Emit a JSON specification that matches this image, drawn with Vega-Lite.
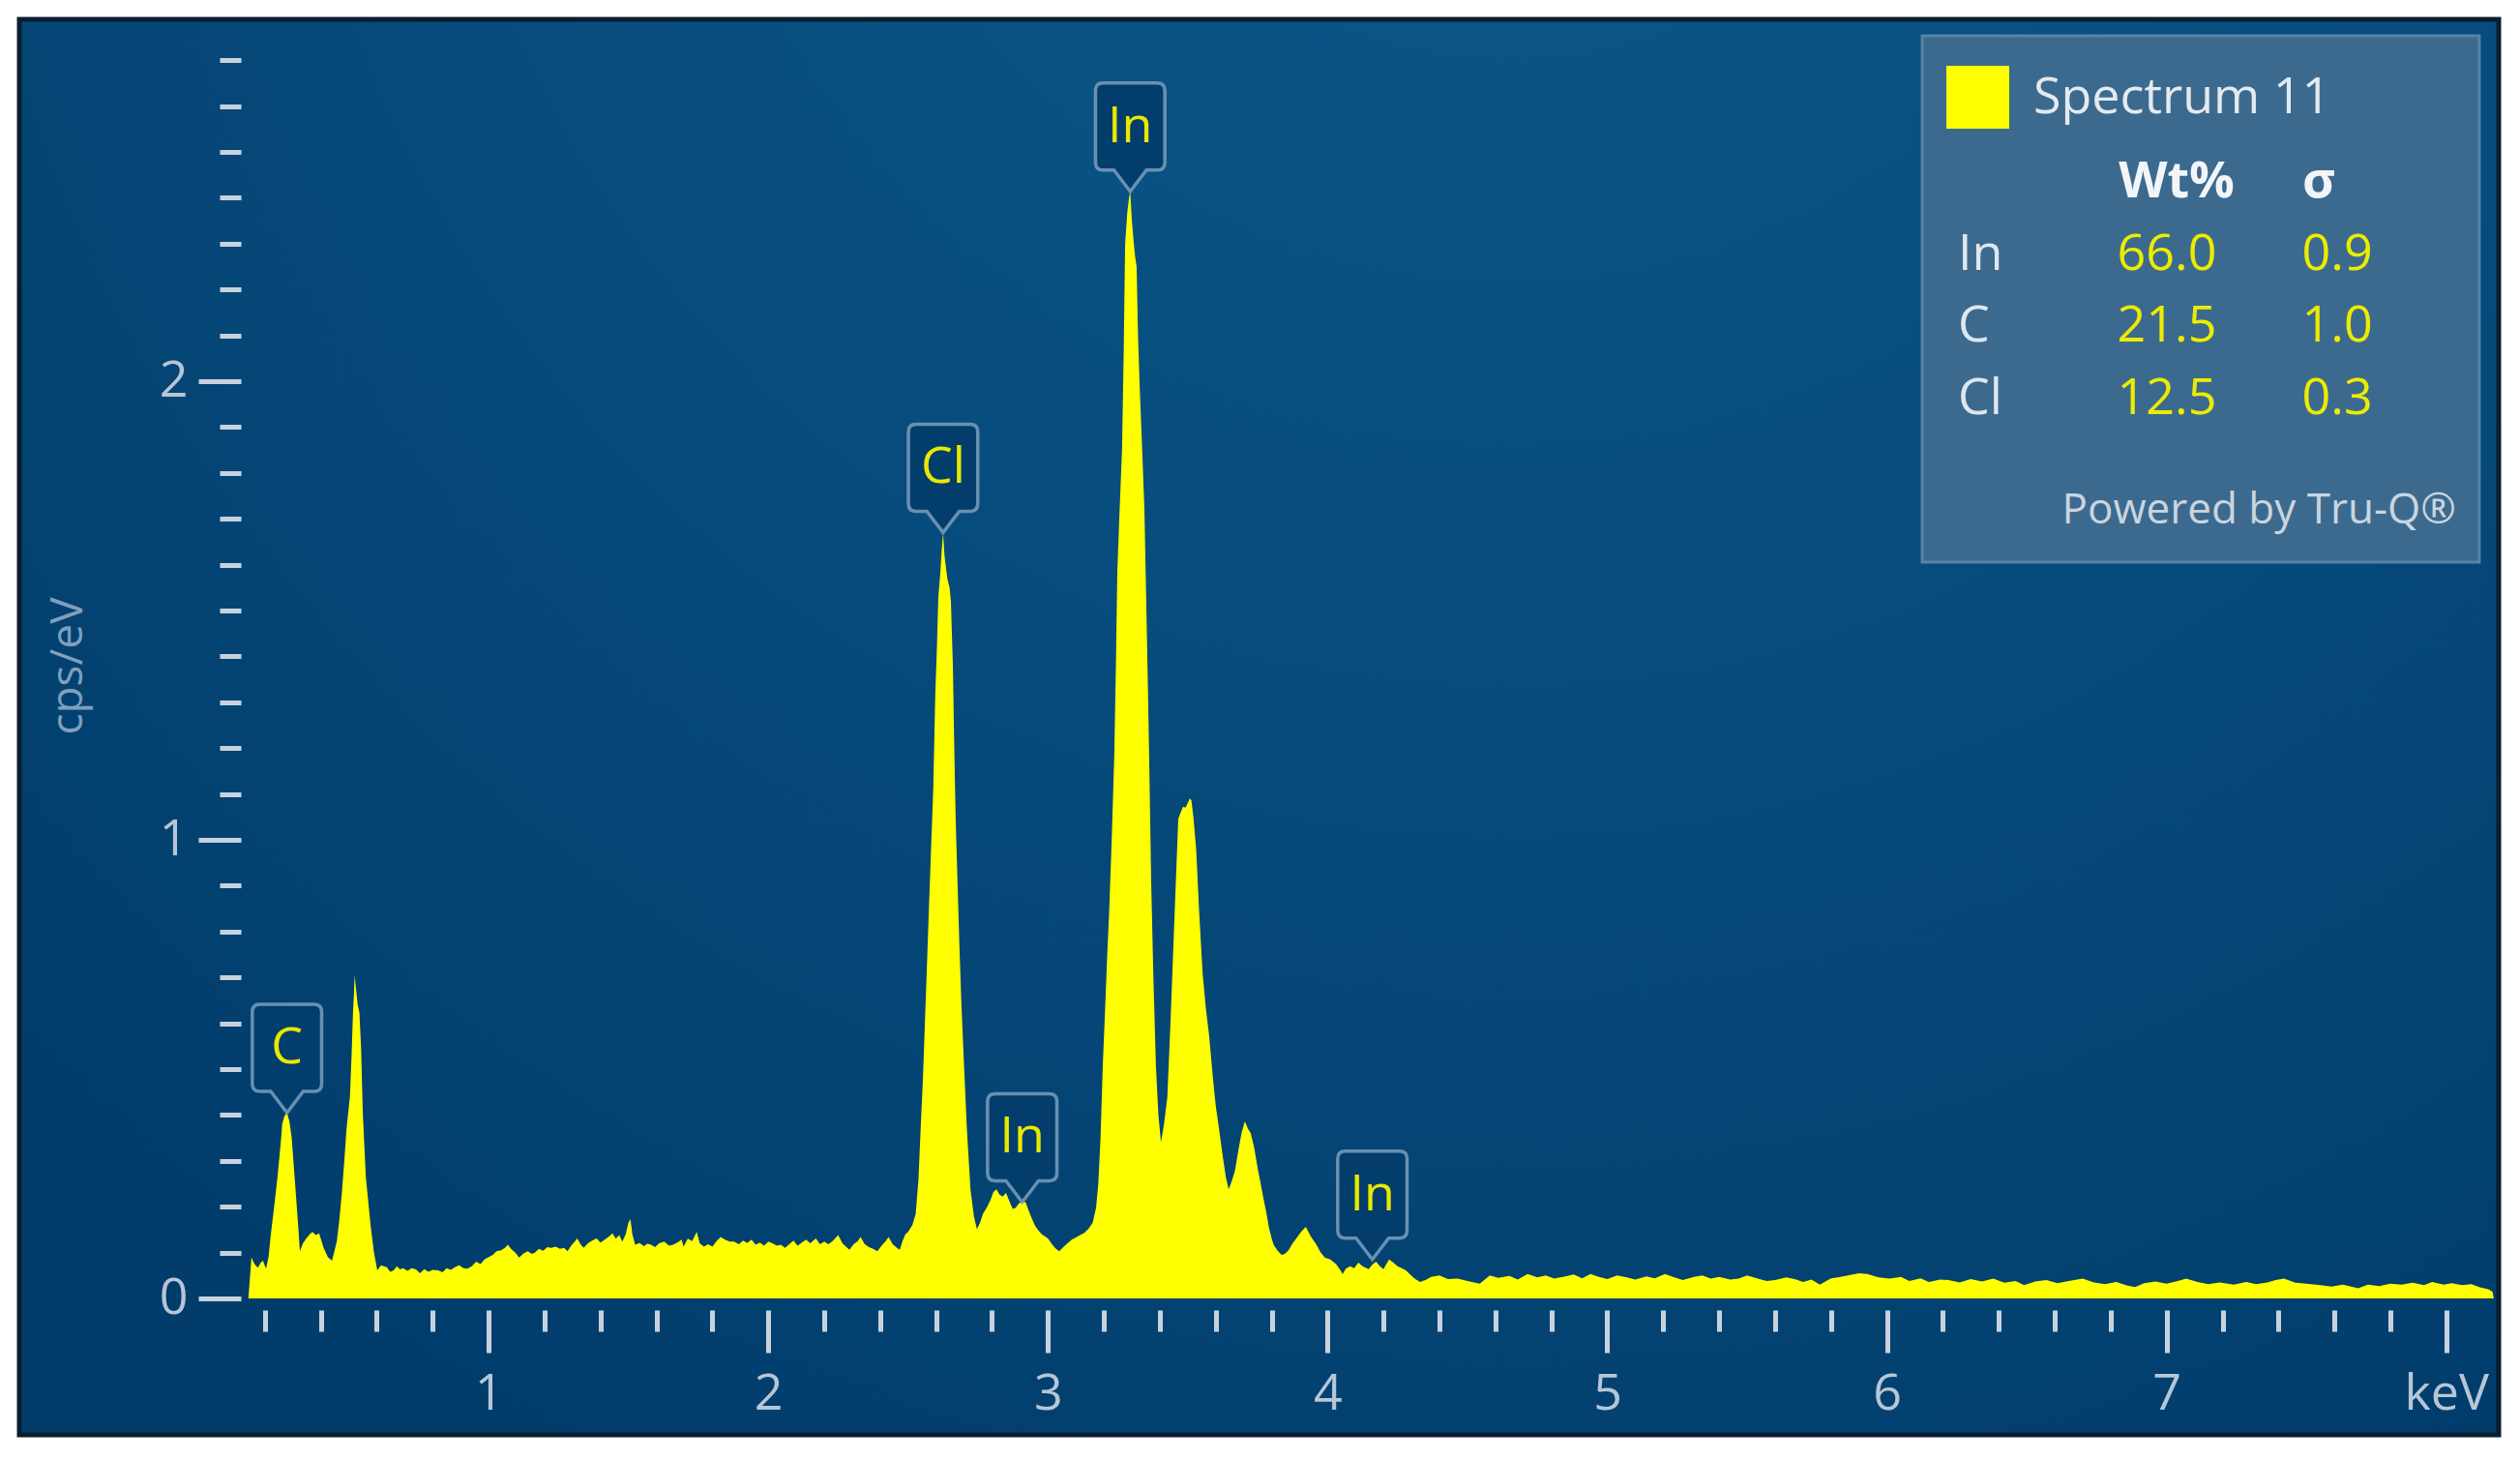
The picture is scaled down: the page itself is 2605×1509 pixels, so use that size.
{
"$schema":"https://vega.github.io/schema/vega-lite/v6.json",
"width":2563,"height":1463,
"autosize":{"type":"none"},
"padding":{"left":20,"top":20,"right":22,"bottom":26},
"background":"white",
"view":{"fill":{"gradient":"radial","x1":0.6,"y1":0.05,"r1":0,"x2":0.6,"y2":0.05,"r2":0.85,"stops":[{"offset":0,"color":"#0c5a8c"},{"offset":0.55,"color":"#064b7b"},{"offset":1,"color":"#013c6b"}]},"stroke":"#0b1d2e","strokeWidth":5},
"config":{"font":"Open Sans"},
"datasets":{
"spectrum":[
{"keV":0.141,"cps":0},{"keV":0.152,"cps":0.089},{"keV":0.163,"cps":0.075},{"keV":0.175,"cps":0.067},{"keV":0.185,"cps":0.078},{"keV":0.193,"cps":0.082},{"keV":0.204,"cps":0.065},{"keV":0.213,"cps":0.09},{"keV":0.221,"cps":0.138},{"keV":0.233,"cps":0.2},{"keV":0.245,"cps":0.264},{"keV":0.256,"cps":0.335},{"keV":0.262,"cps":0.38},{"keV":0.27,"cps":0.398},{"keV":0.279,"cps":0.405},{"keV":0.288,"cps":0.385},{"keV":0.296,"cps":0.349},{"keV":0.308,"cps":0.25},{"keV":0.319,"cps":0.159},{"keV":0.325,"cps":0.103},{"keV":0.336,"cps":0.12},{"keV":0.348,"cps":0.131},{"keV":0.36,"cps":0.14},{"keV":0.37,"cps":0.145},{"keV":0.382,"cps":0.138},{"keV":0.394,"cps":0.142},{"keV":0.41,"cps":0.11},{"keV":0.425,"cps":0.09},{"keV":0.44,"cps":0.082},{"keV":0.457,"cps":0.124},{"keV":0.466,"cps":0.17},{"keV":0.475,"cps":0.229},{"keV":0.484,"cps":0.3},{"keV":0.492,"cps":0.37},{"keV":0.504,"cps":0.44},{"keV":0.51,"cps":0.53},{"keV":0.515,"cps":0.623},{"keV":0.518,"cps":0.66},{"keV":0.521,"cps":0.704},{"keV":0.525,"cps":0.68},{"keV":0.532,"cps":0.64},{"keV":0.538,"cps":0.623},{"keV":0.544,"cps":0.546},{"keV":0.55,"cps":0.405},{"keV":0.561,"cps":0.264},{"keV":0.578,"cps":0.159},{"keV":0.59,"cps":0.1},{"keV":0.602,"cps":0.061},{"keV":0.615,"cps":0.072},{"keV":0.625,"cps":0.07},{"keV":0.636,"cps":0.068},{"keV":0.648,"cps":0.058},{"keV":0.66,"cps":0.061},{"keV":0.672,"cps":0.07},{"keV":0.683,"cps":0.063},{"keV":0.694,"cps":0.066},
{"keV":0.71,"cps":0.06},{"keV":0.725,"cps":0.066},{"keV":0.74,"cps":0.063},{"keV":0.755,"cps":0.055},{"keV":0.77,"cps":0.064},{"keV":0.785,"cps":0.058},{"keV":0.8,"cps":0.062},{"keV":0.82,"cps":0.061},{"keV":0.835,"cps":0.057},{"keV":0.85,"cps":0.066},{"keV":0.865,"cps":0.062},{"keV":0.879,"cps":0.068},{"keV":0.895,"cps":0.072},{"keV":0.91,"cps":0.066},{"keV":0.924,"cps":0.065},{"keV":0.94,"cps":0.07},{"keV":0.955,"cps":0.08},{"keV":0.971,"cps":0.075},{"keV":0.985,"cps":0.085},{"keV":1.0,"cps":0.09},{"keV":1.015,"cps":0.095},{"keV":1.028,"cps":0.103},{"keV":1.045,"cps":0.105},{"keV":1.058,"cps":0.11},{"keV":1.069,"cps":0.117},{"keV":1.08,"cps":0.108},{"keV":1.095,"cps":0.1},{"keV":1.109,"cps":0.089},{"keV":1.125,"cps":0.098},{"keV":1.14,"cps":0.103},{"keV":1.155,"cps":0.097},{"keV":1.166,"cps":0.1},{"keV":1.18,"cps":0.108},{"keV":1.195,"cps":0.104},{"keV":1.21,"cps":0.112},{"keV":1.224,"cps":0.11},{"keV":1.24,"cps":0.113},{"keV":1.255,"cps":0.108},{"keV":1.27,"cps":0.11},{"keV":1.282,"cps":0.103},{"keV":1.295,"cps":0.115},{"keV":1.305,"cps":0.122},{"keV":1.317,"cps":0.131},{"keV":1.33,"cps":0.117},{"keV":1.34,"cps":0.11},{"keV":1.355,"cps":0.12},{"keV":1.37,"cps":0.126},{"keV":1.386,"cps":0.131},{"keV":1.4,"cps":0.122},{"keV":1.415,"cps":0.128},{"keV":1.43,"cps":0.135},{"keV":1.443,"cps":0.142},{"keV":1.455,"cps":0.13},{"keV":1.467,"cps":0.138},{"keV":1.478,"cps":0.124},{"keV":1.49,"cps":0.14},{"keV":1.5,"cps":0.165},{"keV":1.507,"cps":0.173},{"keV":1.514,"cps":0.14},{"keV":1.524,"cps":0.117},{"keV":1.54,"cps":0.121},{"keV":1.555,"cps":0.114},{"keV":1.568,"cps":0.119},{"keV":1.581,"cps":0.117},{"keV":1.595,"cps":0.112},{"keV":1.61,"cps":0.12},{"keV":1.628,"cps":0.124},{"keV":1.645,"cps":0.115},{"keV":1.66,"cps":0.117},{"keV":1.675,"cps":0.122},{"keV":1.69,"cps":0.128},{"keV":1.697,"cps":0.113},{"keV":1.712,"cps":0.13},{"keV":1.728,"cps":0.125},{"keV":1.744,"cps":0.145},{"keV":1.755,"cps":0.12},{"keV":1.77,"cps":0.113},{"keV":1.785,"cps":0.118},{"keV":1.8,"cps":0.113},{"keV":1.815,"cps":0.125},{"keV":1.83,"cps":0.134},{"keV":1.845,"cps":0.128},{"keV":1.862,"cps":0.124},{"keV":1.877,"cps":0.124},{"keV":1.895,"cps":0.118},{"keV":1.91,"cps":0.126},{"keV":1.925,"cps":0.121},{"keV":1.94,"cps":0.128},{"keV":1.955,"cps":0.117},{"keV":1.97,"cps":0.122},{"keV":1.985,"cps":0.115},{"keV":2.0,"cps":0.124},{"keV":2.015,"cps":0.12},{"keV":2.03,"cps":0.115},{"keV":2.045,"cps":0.117},{"keV":2.06,"cps":0.11},{"keV":2.075,"cps":0.118},{"keV":2.09,"cps":0.126},{"keV":2.105,"cps":0.115},{"keV":2.12,"cps":0.122},{"keV":2.135,"cps":0.128},{"keV":2.15,"cps":0.12},{"keV":2.17,"cps":0.131},{"keV":2.185,"cps":0.118},{"keV":2.2,"cps":0.124},{"keV":2.215,"cps":0.118},{"keV":2.23,"cps":0.125},{"keV":2.25,"cps":0.138},{"keV":2.265,"cps":0.12},{"keV":2.28,"cps":0.112},{"keV":2.29,"cps":0.106},{"keV":2.305,"cps":0.118},{"keV":2.32,"cps":0.125},{"keV":2.33,"cps":0.134},{"keV":2.345,"cps":0.118},{"keV":2.36,"cps":0.112},{"keV":2.375,"cps":0.108},{"keV":2.39,"cps":0.103},{"keV":2.405,"cps":0.115},{"keV":2.42,"cps":0.125},{"keV":2.43,"cps":0.134},{"keV":2.445,"cps":0.118},{"keV":2.46,"cps":0.11},{"keV":2.47,"cps":0.106},{"keV":2.48,"cps":0.125},{"keV":2.49,"cps":0.14},{"keV":2.5,"cps":0.145},{"keV":2.515,"cps":0.16},{"keV":2.527,"cps":0.184},
{"keV":2.537,"cps":0.26},{"keV":2.545,"cps":0.373},{"keV":2.553,"cps":0.48},{"keV":2.56,"cps":0.6},{"keV":2.567,"cps":0.72},{"keV":2.574,"cps":0.844},{"keV":2.582,"cps":0.98},{"keV":2.59,"cps":1.113},{"keV":2.597,"cps":1.314},{"keV":2.603,"cps":1.42},{"keV":2.608,"cps":1.53},{"keV":2.615,"cps":1.58},{"keV":2.62,"cps":1.63},{"keV":2.625,"cps":1.67},{"keV":2.63,"cps":1.62},{"keV":2.64,"cps":1.57},{"keV":2.648,"cps":1.55},{"keV":2.653,"cps":1.52},{"keV":2.66,"cps":1.38},{"keV":2.665,"cps":1.2},{"keV":2.67,"cps":1.046},{"keV":2.677,"cps":0.9},{"keV":2.683,"cps":0.776},{"keV":2.69,"cps":0.65},{"keV":2.7,"cps":0.507},{"keV":2.71,"cps":0.37},{"keV":2.723,"cps":0.238},{"keV":2.735,"cps":0.18},{"keV":2.746,"cps":0.151},{"keV":2.757,"cps":0.165},
{"keV":2.768,"cps":0.185},{"keV":2.781,"cps":0.198},{"keV":2.795,"cps":0.215},{"keV":2.805,"cps":0.232},{"keV":2.816,"cps":0.238},{"keV":2.827,"cps":0.226},{"keV":2.838,"cps":0.222},{"keV":2.85,"cps":0.23},{"keV":2.862,"cps":0.212},{"keV":2.874,"cps":0.195},{"keV":2.885,"cps":0.198},{"keV":2.897,"cps":0.208},{"keV":2.908,"cps":0.21},{"keV":2.92,"cps":0.21},{"keV":2.932,"cps":0.19},{"keV":2.944,"cps":0.172},{"keV":2.954,"cps":0.158},{"keV":2.966,"cps":0.148},{"keV":2.978,"cps":0.14},{"keV":2.99,"cps":0.135},{"keV":3.0,"cps":0.131},{"keV":3.012,"cps":0.12},{"keV":3.025,"cps":0.11},{"keV":3.04,"cps":0.103},{"keV":3.055,"cps":0.112},{"keV":3.07,"cps":0.12},{"keV":3.085,"cps":0.128},{"keV":3.1,"cps":0.133},{"keV":3.115,"cps":0.138},{"keV":3.13,"cps":0.143},{"keV":3.145,"cps":0.152},{"keV":3.16,"cps":0.165},{"keV":3.172,"cps":0.198},{"keV":3.18,"cps":0.25},{"keV":3.188,"cps":0.35},{"keV":3.196,"cps":0.507},{"keV":3.205,"cps":0.64},{"keV":3.212,"cps":0.75},{"keV":3.219,"cps":0.844},{"keV":3.228,"cps":1.0},{"keV":3.237,"cps":1.18},{"keV":3.243,"cps":1.38},{"keV":3.248,"cps":1.584},{"keV":3.255,"cps":1.7},{"keV":3.265,"cps":1.852},{"keV":3.271,"cps":2.07},{"keV":3.276,"cps":2.3},{"keV":3.284,"cps":2.37},{"keV":3.29,"cps":2.4},{"keV":3.294,"cps":2.414},{"keV":3.3,"cps":2.35},{"keV":3.307,"cps":2.3},{"keV":3.312,"cps":2.27},{"keV":3.317,"cps":2.25},{"keV":3.322,"cps":2.1},{"keV":3.328,"cps":1.987},{"keV":3.337,"cps":1.85},{"keV":3.345,"cps":1.718},{"keV":3.352,"cps":1.5},{"keV":3.358,"cps":1.314},{"keV":3.364,"cps":1.1},{"keV":3.369,"cps":0.911},{"keV":3.377,"cps":0.7},{"keV":3.386,"cps":0.507},{"keV":3.395,"cps":0.4},{"keV":3.404,"cps":0.34},{"keV":3.415,"cps":0.38},{"keV":3.427,"cps":0.44},{"keV":3.438,"cps":0.6},{"keV":3.449,"cps":0.776},{"keV":3.458,"cps":0.92},{"keV":3.466,"cps":1.046},{"keV":3.475,"cps":1.06},{"keV":3.483,"cps":1.072},{"keV":3.492,"cps":1.07},{"keV":3.5,"cps":1.08},{"keV":3.507,"cps":1.09},{"keV":3.513,"cps":1.086},{"keV":3.52,"cps":1.05},{"keV":3.53,"cps":0.979},{"keV":3.54,"cps":0.85},{"keV":3.553,"cps":0.709},{"keV":3.565,"cps":0.63},{"keV":3.576,"cps":0.575},{"keV":3.59,"cps":0.48},{"keV":3.6,"cps":0.42},{"keV":3.611,"cps":0.373},{"keV":3.625,"cps":0.31},{"keV":3.636,"cps":0.265},{"keV":3.646,"cps":0.238},{"keV":3.657,"cps":0.255},{"keV":3.669,"cps":0.279},{"keV":3.68,"cps":0.32},{"keV":3.692,"cps":0.36},{"keV":3.704,"cps":0.386},{"keV":3.715,"cps":0.37},{"keV":3.725,"cps":0.36},{"keV":3.737,"cps":0.33},{"keV":3.748,"cps":0.29},{"keV":3.76,"cps":0.252},{"keV":3.77,"cps":0.22},{"keV":3.78,"cps":0.19},{"keV":3.79,"cps":0.155},{"keV":3.8,"cps":0.13},{"keV":3.807,"cps":0.117},{"keV":3.82,"cps":0.105},{"keV":3.835,"cps":0.095},{"keV":3.847,"cps":0.097},{"keV":3.86,"cps":0.105},{"keV":3.875,"cps":0.12},{"keV":3.888,"cps":0.131},{"keV":3.905,"cps":0.145},{"keV":3.922,"cps":0.156},{"keV":3.94,"cps":0.135},{"keV":3.96,"cps":0.117},{"keV":3.975,"cps":0.1},{"keV":3.99,"cps":0.089},{"keV":4.01,"cps":0.085},{"keV":4.03,"cps":0.075},{"keV":4.045,"cps":0.062},{"keV":4.054,"cps":0.053},{"keV":4.065,"cps":0.065},{"keV":4.08,"cps":0.07},{"keV":4.095,"cps":0.066},{"keV":4.11,"cps":0.078},{"keV":4.125,"cps":0.07},{"keV":4.147,"cps":0.064},{"keV":4.16,"cps":0.074},{"keV":4.173,"cps":0.08},{"keV":4.187,"cps":0.07},{"keV":4.2,"cps":0.064},{"keV":4.21,"cps":0.075},{"keV":4.22,"cps":0.085},{"keV":4.235,"cps":0.078},{"keV":4.25,"cps":0.07},{"keV":4.265,"cps":0.066},{"keV":4.28,"cps":0.061},{"keV":4.295,"cps":0.052},{"keV":4.31,"cps":0.044},{"keV":4.33,"cps":0.036},{"keV":4.35,"cps":0.04},
{"keV":4.37,"cps":0.047},{"keV":4.4,"cps":0.05},{"keV":4.43,"cps":0.042},{"keV":4.465,"cps":0.043},{"keV":4.5,"cps":0.038},{"keV":4.544,"cps":0.032},{"keV":4.58,"cps":0.05},{"keV":4.61,"cps":0.045},{"keV":4.65,"cps":0.049},{"keV":4.68,"cps":0.041},{"keV":4.715,"cps":0.053},{"keV":4.75,"cps":0.046},{"keV":4.78,"cps":0.05},{"keV":4.81,"cps":0.043},{"keV":4.85,"cps":0.048},{"keV":4.88,"cps":0.052},{"keV":4.91,"cps":0.044},{"keV":4.94,"cps":0.053},{"keV":4.97,"cps":0.047},{"keV":5.0,"cps":0.042},{"keV":5.035,"cps":0.05},{"keV":5.07,"cps":0.046},{"keV":5.1,"cps":0.041},{"keV":5.14,"cps":0.048},{"keV":5.17,"cps":0.044},{"keV":5.206,"cps":0.053},{"keV":5.24,"cps":0.046},{"keV":5.27,"cps":0.04},{"keV":5.31,"cps":0.047},{"keV":5.34,"cps":0.05},{"keV":5.37,"cps":0.043},{"keV":5.4,"cps":0.047},{"keV":5.44,"cps":0.041},{"keV":5.47,"cps":0.043},{"keV":5.5,"cps":0.05},{"keV":5.535,"cps":0.044},{"keV":5.57,"cps":0.038},{"keV":5.6,"cps":0.04},{"keV":5.64,"cps":0.046},{"keV":5.67,"cps":0.042},{"keV":5.7,"cps":0.036},{"keV":5.73,"cps":0.041},{"keV":5.76,"cps":0.03},{"keV":5.8,"cps":0.044},{"keV":5.825,"cps":0.046},{"keV":5.86,"cps":0.05},{"keV":5.9,"cps":0.055},{"keV":5.93,"cps":0.053},{"keV":5.97,"cps":0.046},{"keV":6.01,"cps":0.043},{"keV":6.05,"cps":0.047},{"keV":6.08,"cps":0.038},{"keV":6.12,"cps":0.044},{"keV":6.15,"cps":0.036},{"keV":6.19,"cps":0.041},{"keV":6.22,"cps":0.04},{"keV":6.26,"cps":0.035},{"keV":6.3,"cps":0.042},{"keV":6.34,"cps":0.037},{"keV":6.38,"cps":0.043},{"keV":6.42,"cps":0.034},{"keV":6.46,"cps":0.038},{"keV":6.49,"cps":0.029},{"keV":6.53,"cps":0.037},{"keV":6.57,"cps":0.04},{"keV":6.61,"cps":0.033},{"keV":6.65,"cps":0.038},{"keV":6.7,"cps":0.043},{"keV":6.74,"cps":0.035},{"keV":6.78,"cps":0.031},{"keV":6.82,"cps":0.036},{"keV":6.86,"cps":0.028},{"keV":6.887,"cps":0.025},{"keV":6.92,"cps":0.033},{"keV":6.96,"cps":0.037},{"keV":7.0,"cps":0.032},{"keV":7.04,"cps":0.038},{"keV":7.07,"cps":0.043},{"keV":7.11,"cps":0.036},{"keV":7.15,"cps":0.031},{"keV":7.19,"cps":0.035},{"keV":7.24,"cps":0.03},{"keV":7.285,"cps":0.036},{"keV":7.32,"cps":0.031},{"keV":7.36,"cps":0.035},{"keV":7.39,"cps":0.04},{"keV":7.42,"cps":0.043},{"keV":7.46,"cps":0.034},{"keV":7.5,"cps":0.032},{"keV":7.55,"cps":0.029},{"keV":7.59,"cps":0.026},{"keV":7.63,"cps":0.03},{"keV":7.685,"cps":0.022},{"keV":7.72,"cps":0.03},{"keV":7.76,"cps":0.027},{"keV":7.8,"cps":0.032},{"keV":7.84,"cps":0.03},{"keV":7.88,"cps":0.034},{"keV":7.92,"cps":0.029},{"keV":7.95,"cps":0.036},{"keV":7.99,"cps":0.03},{"keV":8.02,"cps":0.033},{"keV":8.056,"cps":0.029},{"keV":8.09,"cps":0.031},{"keV":8.12,"cps":0.024},{"keV":8.15,"cps":0.02},{"keV":8.165,"cps":0.015},{"keV":8.17,"cps":0}
],
"peaks":[{"element":"C","keV":0.279,"cps":0.405},{"element":"Cl","keV":2.625,"cps":1.67},{"element":"In","keV":2.908,"cps":0.21},{"element":"In","keV":3.294,"cps":2.414},{"element":"In","keV":4.16,"cps":0.085}],
"composition":[{"element":"In","wt":66.0,"sigma":0.9},{"element":"C","wt":21.5,"sigma":1.0},{"element":"Cl","wt":12.5,"sigma":0.3}]
},
"layer":[
{
"layer":[
{
"data":{"values":[{"panel":"quantification"}]},
"mark":{"type":"rect","fill":"#3c6a8f","stroke":"#5683a7","strokeWidth":3},
"encoding":{
"x":{"datum":6.126,"type":"quantitative","axis":{"orient":"bottom","offset":-129,"values":[0.2,0.4,0.6,0.8,1.2,1.4,1.6,1.8,2.2,2.4,2.6,2.8,3.2,3.4,3.6,3.8,4.2,4.4,4.6,4.8,5.2,5.4,5.6,5.8,6.2,6.4,6.6,6.8,7.2,7.4,7.6,7.8],"tickSize":22,"tickWidth":5,"tickColor":"#c6d3df","labels":false,"domain":false,"grid":false,"title":null}},
"x2":{"datum":8.118},
"y":{"datum":2.753,"type":"quantitative","axis":{"orient":"left","offset":-229,"values":[0.1,0.2,0.3,0.4,0.5,0.6,0.7,0.8,0.9,1.1,1.2,1.3,1.4,1.5,1.6,1.7,1.8,1.9,2.1,2.2,2.3,2.4,2.5,2.6,2.7],"tickSize":22,"tickWidth":5,"tickColor":"#c6d3df","labels":false,"domain":false,"grid":false,"title":null}},
"y2":{"datum":1.6055}
}
},
{
"data":{"name":"spectrum"},
"mark":{"type":"area","interpolate":"linear","opacity":1,"fillOpacity":1},
"encoding":{
"x":{"field":"keV","type":"quantitative","scale":{"domain":[-0.678,8.1875],"nice":false,"zero":false},"axis":{"orient":"bottom","offset":-129,"values":[1,2,3,4,5,6,7,8],"labelExpr":"datum.value == 8 ? 'keV' : datum.label","tickSize":44,"tickWidth":5,"tickColor":"#c6d3df","domain":false,"grid":false,"labelFontSize":52,"labelFont":"Open Sans","labelColor":"#b6c6d6","labelPadding":17,"labelBaseline":"top","labelFlush":false,"labelOverlap":false,"title":null}},
"y":{"field":"cps","type":"quantitative","scale":{"domain":[-0.2975,2.789],"nice":false,"zero":false},"axis":{"orient":"left","offset":-229,"values":[0,1,2],"tickSize":44,"tickWidth":5,"tickColor":"#c6d3df","domain":false,"grid":false,"labelFontSize":52,"labelFont":"Open Sans","labelColor":"#b6c6d6","labelPadding":11,"labelFlush":false,"labelOverlap":false,"title":"cps/eV","titleFont":"Open Sans","titleFontSize":46,"titleFontWeight":"normal","titleColor":"#7f9fbd","titleAngle":-90,"titleX":-179,"titleY":668,"titleAlign":"center","titleBaseline":"middle"}},
"y2":{"datum":0},
"color":{"datum":"Spectrum 11","type":"nominal","scale":{"range":["#ffff00"]},"legend":{"orient":"none","legendX":1992,"legendY":48,"title":null,"symbolType":"square","symbolSize":4225,"symbolStrokeWidth":0,"symbolOpacity":1,"labelFontSize":52,"labelFont":"Open Sans","labelColor":"#e3eaf0","labelOffset":25,"labelLimit":0,"padding":0}}
}
},
{
"data":{"name":"peaks"},
"mark":{"type":"point","shape":"M0,0 L-0.3,-0.393 L-0.5,-0.393 Q-0.64,-0.393 -0.64,-0.533 L-0.64,-1.86 Q-0.64,-2 -0.5,-2 L0.5,-2 Q0.64,-2 0.64,-1.86 L0.64,-0.533 Q0.64,-0.393 0.5,-0.393 L0.3,-0.393 Z","size":12544,"filled":true,"fill":"#033d6b","fillOpacity":1,"stroke":"#7b9dbc","strokeWidth":3.5,"strokeOpacity":0.85,"opacity":1},
"encoding":{"x":{"field":"keV","type":"quantitative","axis":null},"y":{"field":"cps","type":"quantitative","axis":null}}
},
{
"data":{"name":"peaks"},
"mark":{"type":"text","dy":-67,"fontSize":52,"font":"Open Sans","color":"#e8e800","baseline":"middle","align":"center"},
"encoding":{"x":{"field":"keV","type":"quantitative","axis":null},"y":{"field":"cps","type":"quantitative","axis":null},"text":{"field":"element"}}
},
{
"data":{"values":[{"note":"Powered by Tru-Q®"}]},
"mark":{"type":"text","align":"right","baseline":"middle","fontSize":44,"font":"Open Sans","color":"#c9d5df"},
"encoding":{"x":{"datum":8.035,"type":"quantitative","axis":null},"y":{"datum":1.717,"type":"quantitative","axis":null},"text":{"field":"note"}}
}
],
"resolve":{"axis":{"x":"independent","y":"independent"}}
},
{
"data":{"name":"composition"},
"encoding":{"y":{"field":"element","type":"nominal","scale":{"domain":["hdr","In","C","Cl"],"range":[168,392],"padding":0},"axis":null}},
"layer":[
{"mark":{"type":"text","align":"left","baseline":"middle","fontSize":52,"font":"Open Sans","color":"#dfe7ee"},"encoding":{"x":{"datum":6.254,"type":"quantitative","axis":null},"text":{"field":"element"}}},
{"mark":{"type":"text","align":"center","baseline":"middle","fontSize":52,"font":"Open Sans","color":"#ecec00"},"encoding":{"x":{"datum":7.001,"type":"quantitative","axis":null},"text":{"field":"wt","format":".1f"}}},
{"mark":{"type":"text","align":"center","baseline":"middle","fontSize":52,"font":"Open Sans","color":"#ecec00"},"encoding":{"x":{"datum":7.61,"type":"quantitative","axis":null},"text":{"field":"sigma","format":".1f"}}},
{"data":{"values":[{"head":"Wt%"}]},"mark":{"type":"text","align":"center","baseline":"middle","fontSize":52,"font":"Open Sans","fontWeight":"bold","color":"#f2f5f8"},"encoding":{"x":{"datum":7.036,"type":"quantitative","axis":null},"y":{"datum":"hdr","type":"nominal","axis":null},"text":{"field":"head"}}},
{"data":{"values":[{"head":"σ"}]},"mark":{"type":"text","align":"center","baseline":"middle","fontSize":52,"font":"Open Sans","fontWeight":"bold","color":"#f2f5f8"},"encoding":{"x":{"datum":7.544,"type":"quantitative","axis":null},"y":{"datum":"hdr","type":"nominal","axis":null},"text":{"field":"head"}}}
]
}
],
"resolve":{"scale":{"y":"independent"}}
}
